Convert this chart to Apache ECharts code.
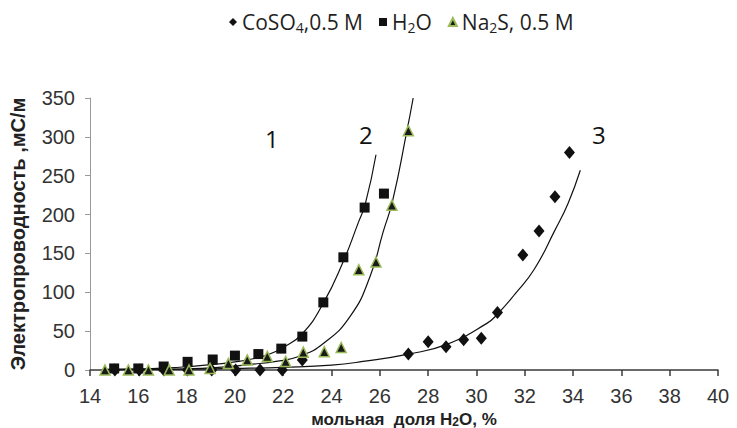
<!DOCTYPE html>
<html>
<head>
<meta charset="utf-8">
<script src="https://cdn.jsdelivr.net/npm/echarts@6/dist/echarts.min.js"></script>
<style>
html, body { margin: 0; padding: 0; background: #fff; }
#chart { width: 737px; height: 428px; }
</style>
</head>
<body>
<div id="chart"></div>
<script>
// measured points: CoSO4, 0.5 M (diamonds)
var coso4X = [15.03, 16.04, 17.06, 18.04, 19.04, 20.03, 21.04, 21.96, 22.79, 27.18, 28.0, 28.74, 29.47, 30.2, 30.87, 31.92, 32.59, 33.25, 33.85];
var coso4Y = [0, 0, 0, 0, 0, 0, 0, 0, 13, 20.5, 36.5, 30, 39, 41, 74, 148, 179, 223, 280];

// water (squares)
var h2oX = [15.0, 16.0, 17.05, 18.04, 19.08, 20.0, 20.97, 21.92, 22.79, 23.66, 24.49, 25.37, 26.17];
var h2oY = [2, 2, 4.5, 10.5, 13.5, 18.5, 20.5, 27.5, 43, 87, 145, 209, 227];

// Na2S, 0.5 M (triangles)
var na2sX = [14.62, 15.59, 16.42, 17.28, 18.1, 18.97, 19.73, 20.51, 21.34, 22.1, 22.83, 23.7, 24.4, 25.13, 25.84, 26.5, 27.18];
var na2sY = [0, 0, 0, 0, 0, 2, 8.5, 13, 17.5, 11, 23, 23.5, 29, 129, 139, 212, 308];

// trend curves
var fit1X = [14.5, 16, 17, 18, 19, 20, 20.6, 21.3, 22, 22.8, 23.66, 24.49, 25.1, 25.4, 25.84];
var fit1Y = [0.7, 1.5, 2.5, 4.2, 6.8, 10.5, 13.5, 19, 29, 47, 86, 140, 189, 214, 277];
var fit2X = [14.5, 16, 17, 18, 19, 20, 20.6, 21.7, 22.7, 23.66, 24.77, 25.59, 26.14, 26.53, 27.11, 27.38];
var fit2Y = [0.2, 0.5, 0.9, 1.6, 2.8, 5, 7, 11, 18, 34, 69, 120, 178, 218, 306, 350];
var fit3X = [15, 18, 20, 22, 24, 25.3, 27.18, 28.77, 30.43, 30.87, 31.6, 32.4, 33.25, 33.8, 34.3];
var fit3Y = [0.3, 1, 2, 3.5, 6.3, 11, 20.5, 33, 60, 72, 98, 130, 180, 215, 257];

var curveLabels = ['1', '2', '3'];

function pairs(xs, ys) {
	var out = [];
	for (var i = 0; i < xs.length; i++) {
		out.push([xs[i], ys[i]]);
	}
	return out;
}

var legendNames = {
	'CoSO4,0.5 M' : '{a|CoSO}{s|4}{a|,0.5 M}',
	'H2O' : '{a|H}{s|2}{a|O}',
	'Na2S, 0.5 M' : '{a|Na}{s|2}{a|S, 0.5 M}'
};

var fitLine = {
	type : 'line',
	smooth : true,
	symbol : 'none',
	silent : true,
	z : 1,
	lineStyle : { color : '#111', width : 1.2 }
};

var chart = echarts.init(document.getElementById('chart'), null, { renderer : 'svg' });
chart.setOption({
	animation : false,
	backgroundColor : '#fff',
	grid : { left : 90, right : 19, top : 98, bottom : 58, outerBoundsMode : 'none', containLabel : false },
	legend : {
		left : 224,
		top : 5,
		itemWidth : 8,
		itemHeight : 8,
		itemGap : 16,
		data : [
			{ name : 'CoSO4,0.5 M', icon : 'diamond' },
			{ name : 'H2O', icon : 'rect' },
			{ name : 'Na2S, 0.5 M', icon : 'triangle' }
		],
		formatter : function(name) {
			return legendNames[name];
		},
		textStyle : {
			rich : {
				a : { fontFamily : 'Open Sans', fontSize : 21, color : '#1f1f1f', lineHeight : 26 },
				s : { fontFamily : 'Open Sans', fontSize : 14, color : '#1f1f1f', lineHeight : 16, padding : [ 10, 0, 0, 0 ] }
			}
		}
	},
	xAxis : {
		type : 'value',
		min : 14,
		max : 40,
		interval : 2,
		name : '{b|мольная  доля H}{s|2}{b|O, %}',
		nameLocation : 'middle',
		nameGap : 30,
		nameTextStyle : {
			rich : {
				b : { fontFamily : 'Liberation Sans', fontWeight : 'bold', fontSize : 17, color : '#222', lineHeight : 20 },
				s : { fontFamily : 'Liberation Sans', fontWeight : 'bold', fontSize : 12, color : '#222', lineHeight : 14, padding : [ 5, 0, 0, 0 ] }
			}
		},
		splitLine : { show : false },
		axisLine : { onZero : false, lineStyle : { color : '#3a3a3a', width : 1.5 } },
		axisTick : { show : true, inside : false, length : 6, lineStyle : { color : '#3a3a3a', width : 1.5 } },
		axisLabel : { fontFamily : 'Liberation Sans', fontSize : 20, color : '#333', margin : 16 }
	},
	yAxis : {
		type : 'value',
		min : 0,
		max : 350,
		interval : 50,
		name : 'Электропроводность ,мС/м',
		nameLocation : 'middle',
		nameRotate : 90,
		nameGap : 62,
		nameTextStyle : { fontFamily : 'Liberation Sans', fontWeight : 'bold', fontSize : 20, color : '#222' },
		splitLine : { show : false },
		axisLine : { show : true, lineStyle : { color : '#999', width : 1 } },
		axisTick : { show : true, inside : false, length : 5, lineStyle : { color : '#999' } },
		axisLabel : { fontFamily : 'Liberation Sans', fontSize : 20, color : '#333', margin : 15 }
	},
	graphic : [
		{ type : 'text', left : 265, top : 126, style : { text : curveLabels[0], font : '24px "Open Sans"', fill : '#111' } },
		{ type : 'text', left : 359, top : 122, style : { text : curveLabels[1], font : '24px "Open Sans"', fill : '#111' } },
		{ type : 'text', left : 592, top : 122, style : { text : curveLabels[2], font : '24px "Open Sans"', fill : '#111' } }
	],
	series : [
		Object.assign({}, fitLine, { name : 'fit1', data : pairs(fit1X, fit1Y) }),
		Object.assign({}, fitLine, { name : 'fit2', data : pairs(fit2X, fit2Y) }),
		Object.assign({}, fitLine, { name : 'fit3', data : pairs(fit3X, fit3Y) }),
		{
			name : 'CoSO4,0.5 M',
			type : 'scatter',
			symbol : 'diamond',
			symbolSize : [ 11, 13 ],
			z : 3,
			itemStyle : { color : '#111', opacity : 1 },
			data : pairs(coso4X, coso4Y)
		},
		{
			name : 'H2O',
			type : 'scatter',
			symbol : 'rect',
			symbolSize : 10,
			z : 4,
			itemStyle : { color : '#111', opacity : 1 },
			data : pairs(h2oX, h2oY)
		},
		{
			name : 'Na2S, 0.5 M',
			type : 'scatter',
			symbol : 'triangle',
			symbolSize : 10,
			z : 5,
			itemStyle : { color : '#1a1a1a', borderColor : '#9bbb59', borderWidth : 1.5, opacity : 1 },
			data : pairs(na2sX, na2sY)
		}
	]
});
</script>
</body>
</html>
